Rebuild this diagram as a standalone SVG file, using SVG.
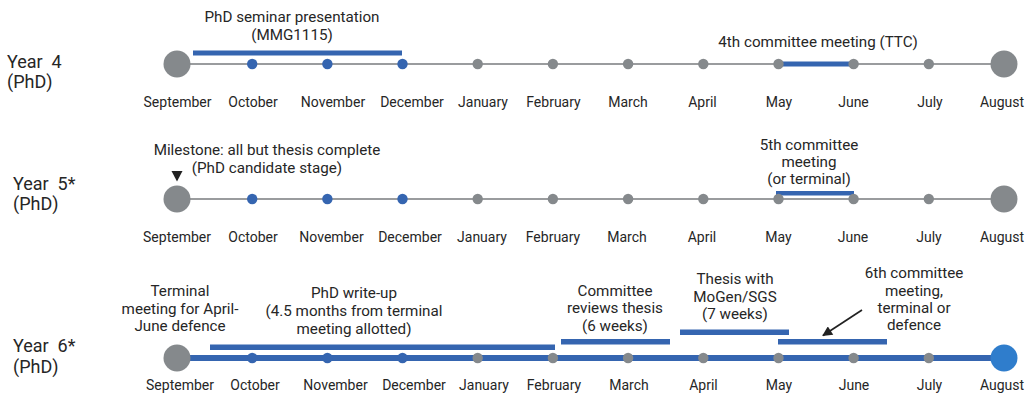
<svg xmlns="http://www.w3.org/2000/svg" width="1027" height="393" viewBox="0 0 1027 393">
<defs>
<style>
text{font-family:Roboto,"Liberation Sans",sans-serif;fill:#262626;}
.m{font-size:14px;text-anchor:middle;}
.a{font-size:15.2px;text-anchor:middle;}
.y{font-size:18px;white-space:pre;}
.gl{stroke:#9a9c9e;stroke-width:2;fill:none;}
.bl{stroke:#3565b0;fill:none;}
.big{fill:#85898c;}
.dg{fill:#85898c;}
.db{fill:#3565b0;}
.bar{fill:#3565b0;}
</style>
<marker id="ah" viewBox="0 0 10 10" refX="9" refY="5" markerWidth="11" markerHeight="10" markerUnits="userSpaceOnUse" orient="auto"><path d="M0,0 L10,5 L0,10 z" fill="#222"/></marker>
</defs>
<rect width="1027" height="393" fill="#fff"/>

<g id="connectors">
<line class="gl" x1="177" y1="64" x2="1004" y2="64"/>
<line class="gl" x1="177" y1="199" x2="1004" y2="199"/>
<line class="bl" x1="177" y1="358" x2="1004" y2="358" stroke-width="6"/>
<line x1="862" y1="310" x2="823" y2="335.5" stroke="#222" stroke-width="1.7" marker-end="url(#ah)"/>
</g>

<g id="year4">
<text class="y" x="7" y="68" xml:space="preserve">Year  4</text>
<text class="y" x="7" y="88">(PhD)</text>
<rect class="bar" x="193" y="50.5" width="209" height="5"/>
<text class="a" x="292" y="22">PhD seminar presentation</text>
<text class="a" x="292" y="40">(MMG1115)</text>
<rect class="bar" x="778" y="61.5" width="75.5" height="5"/>
<text class="a" x="818" y="47">4th committee meeting (TTC)</text>
<circle class="big" cx="177" cy="64" r="13.5"/>
<circle class="db" cx="252.2" cy="64" r="5.2"/>
<circle class="db" cx="327.4" cy="64" r="5.2"/>
<circle class="db" cx="402.5" cy="64" r="5.2"/>
<circle class="dg" cx="477.7" cy="64" r="5.2"/>
<circle class="dg" cx="552.9" cy="64" r="5.2"/>
<circle class="dg" cx="628.1" cy="64" r="5.2"/>
<circle class="dg" cx="703.3" cy="64" r="5.2"/>
<circle class="dg" cx="778.5" cy="64" r="5.2"/>
<circle class="dg" cx="853.6" cy="64" r="5.2"/>
<circle class="dg" cx="928.8" cy="64" r="5.2"/>
<circle class="big" cx="1004" cy="64" r="13.5"/>
<text class="m" x="177.5" y="107">September</text>
<text class="m" x="253" y="107">October</text>
<text class="m" x="333" y="107">November</text>
<text class="m" x="412" y="107">December</text>
<text class="m" x="483" y="107">January</text>
<text class="m" x="553.5" y="107">February</text>
<text class="m" x="628" y="107">March</text>
<text class="m" x="702.5" y="107">April</text>
<text class="m" x="779" y="107">May</text>
<text class="m" x="853.5" y="107">June</text>
<text class="m" x="930" y="107">July</text>
<text class="m" x="1002" y="107">August</text>
</g>

<g id="year5">
<text class="y" x="13" y="190" xml:space="preserve">Year  5*</text>
<text class="y" x="13" y="210">(PhD)</text>
<text class="a" x="267" y="155">Milestone: all but thesis complete</text>
<text class="a" x="267" y="172.5">(PhD candidate stage)</text>
<polygon points="171.5,171 182.5,171 177,181.5" fill="#222"/>
<rect class="bar" x="776" y="191" width="78" height="4.5"/>
<text class="a" x="809" y="150">5th committee</text>
<text class="a" x="809" y="167">meeting</text>
<text class="a" x="809" y="184">(or terminal)</text>
<circle class="big" cx="177" cy="199" r="13.5"/>
<circle class="db" cx="252.2" cy="199" r="5.2"/>
<circle class="db" cx="327.4" cy="199" r="5.2"/>
<circle class="db" cx="402.5" cy="199" r="5.2"/>
<circle class="dg" cx="477.7" cy="199" r="5.2"/>
<circle class="dg" cx="552.9" cy="199" r="5.2"/>
<circle class="dg" cx="628.1" cy="199" r="5.2"/>
<circle class="dg" cx="703.3" cy="199" r="5.2"/>
<circle class="dg" cx="778.5" cy="199" r="5.2"/>
<circle class="dg" cx="853.6" cy="199" r="5.2"/>
<circle class="dg" cx="928.8" cy="199" r="5.2"/>
<circle class="big" cx="1004" cy="199" r="13.5"/>
<text class="m" x="177" y="242">September</text>
<text class="m" x="253" y="242">October</text>
<text class="m" x="331.5" y="242">November</text>
<text class="m" x="410" y="242">December</text>
<text class="m" x="482" y="242">January</text>
<text class="m" x="553" y="242">February</text>
<text class="m" x="627" y="242">March</text>
<text class="m" x="702" y="242">April</text>
<text class="m" x="778.5" y="242">May</text>
<text class="m" x="853" y="242">June</text>
<text class="m" x="929" y="242">July</text>
<text class="m" x="1002" y="242">August</text>
</g>

<g id="year6">
<text class="y" x="13" y="352" xml:space="preserve">Year  6*</text>
<text class="y" x="13" y="373">(PhD)</text>
<text class="a" x="180" y="296">Terminal</text>
<text class="a" x="180" y="314">meeting for April-</text>
<text class="a" x="180" y="331">June defence</text>
<text class="a" x="354" y="298">PhD write-up</text>
<text class="a" x="354" y="316">(4.5 months from terminal</text>
<text class="a" x="354" y="334">meeting allotted)</text>
<rect class="bar" x="210" y="344.5" width="345" height="5.5"/>
<text class="a" x="615" y="296">Committee</text>
<text class="a" x="615" y="313">reviews thesis</text>
<text class="a" x="615" y="331">(6 weeks)</text>
<rect class="bar" x="561" y="339" width="109" height="5.5"/>
<text class="a" x="735" y="284">Thesis with</text>
<text class="a" x="735" y="302">MoGen/SGS</text>
<text class="a" x="735" y="319">(7 weeks)</text>
<rect class="bar" x="680" y="329.5" width="109" height="5.5"/>
<text class="a" x="914" y="278">6th committee</text>
<text class="a" x="914" y="296">meeting,</text>
<text class="a" x="914" y="313">terminal or</text>
<text class="a" x="914" y="330">defence</text>
<rect class="bar" x="778" y="339" width="109" height="5.5"/>
<circle class="big" cx="177" cy="358" r="13.5"/>
<circle class="db" cx="252.2" cy="358" r="5.2"/>
<circle class="db" cx="327.4" cy="358" r="5.2"/>
<circle class="db" cx="402.5" cy="358" r="5.2"/>
<circle class="dg" cx="477.7" cy="358" r="5.2"/>
<circle class="dg" cx="552.9" cy="358" r="5.2"/>
<circle class="dg" cx="628.1" cy="358" r="5.2"/>
<circle class="dg" cx="703.3" cy="358" r="5.2"/>
<circle class="dg" cx="778.5" cy="358" r="5.2"/>
<circle class="dg" cx="853.6" cy="358" r="5.2"/>
<circle class="dg" cx="928.8" cy="358" r="5.2"/>
<circle cx="1004" cy="358" r="13.5" fill="#2f7dcc"/>
<text class="m" x="180" y="390">September</text>
<text class="m" x="255" y="390">October</text>
<text class="m" x="335.5" y="390">November</text>
<text class="m" x="414" y="390">December</text>
<text class="m" x="484" y="390">January</text>
<text class="m" x="554" y="390">February</text>
<text class="m" x="629" y="390">March</text>
<text class="m" x="703.5" y="390">April</text>
<text class="m" x="779" y="390">May</text>
<text class="m" x="854" y="390">June</text>
<text class="m" x="929.5" y="390">July</text>
<text class="m" x="1002" y="390">August</text>
</g>
</svg>
